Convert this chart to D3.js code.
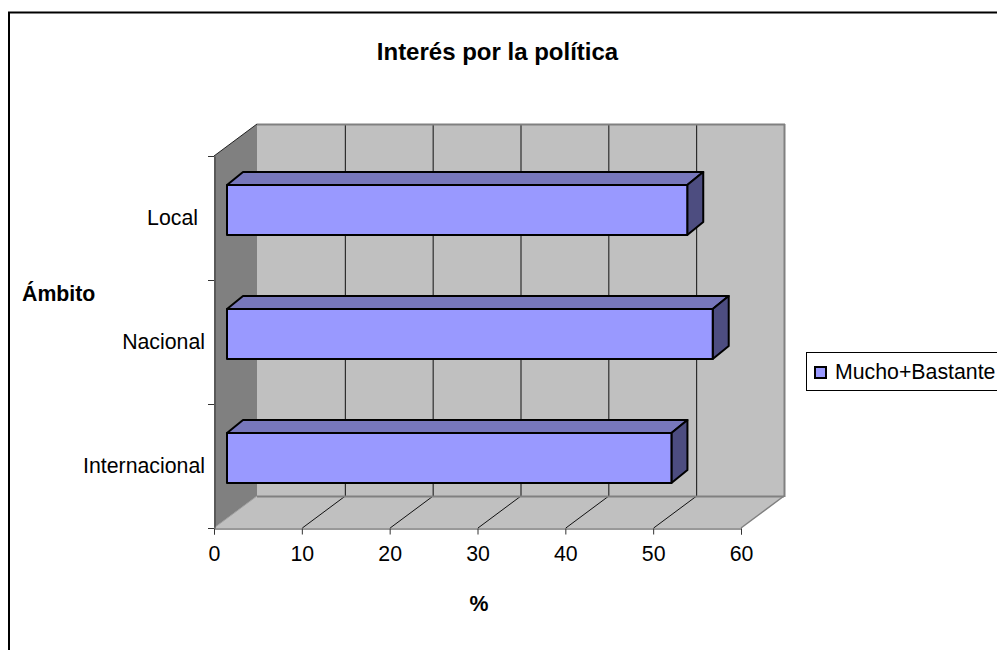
<!DOCTYPE html>
<html><head><meta charset="utf-8">
<script src="https://cdn.jsdelivr.net/npm/d3@7"></script>
<style>html,body{margin:0;padding:0;background:#fff;overflow:hidden}svg{display:block}text{font-family:"Liberation Sans",Arial,sans-serif;fill:#000}</style>
</head><body><div id="c"></div>
<script>
const categories=["Internacional","Nacional","Local"];
const values=[50.6,55.3,52.4];
const seriesName="Mucho+Bastante";
const xTicks=[0,10,20,30,40,50,60];
const title="Interés por la política", xTitle="%", yTitle="Ámbito";

const W=997,H=650;
const FF='"Liberation Sans",Arial,sans-serif';
const FS=21.3;
const svg=d3.select("#c").append("svg").attr("width",W).attr("height",H);
const x=d3.scaleLinear().domain([0,60]).range([214,741]);
const y=d3.scaleBand().domain(categories).range([528,156]).paddingInner(0).paddingOuter(0);
const dx=43,dy=-32;
const poly=(pts,fill,stroke,sw)=>svg.append("polygon").attr("points",pts.map(p=>p.join(",")).join(" ")).attr("fill",fill).attr("stroke",stroke||"none").attr("stroke-width",sw||0);

svg.append("rect").attr("x",9).attr("y",12.5).attr("width",W+20).attr("height",H+20).attr("fill","#fff").attr("stroke","#000").attr("stroke-width",2);

const [x0,x1]=x.range(), yb=y.range()[0], yt=y.range()[1];
poly([[x0+dx,yt+dy],[x1+dx,yt+dy],[x1+dx,yb+dy],[x0+dx,yb+dy]],"#c0c0c0");
poly([[x0,yb],[x0+dx,yb+dy],[x1+dx,yb+dy],[x1,yb]],"#c0c0c0");
poly([[x0,yt],[x0+dx,yt+dy],[x0+dx,yb+dy],[x0,yb]],"#808080");

// grid
xTicks.slice(1,-1).forEach(t=>{
  svg.append("line").attr("x1",x(t)+dx+.5).attr("x2",x(t)+dx+.5).attr("y1",yt+dy).attr("y2",yb+dy).attr("stroke","#111").attr("stroke-width",1);
  svg.append("line").attr("x1",x(t)+.5).attr("y1",yb).attr("x2",x(t)+dx+.5).attr("y2",yb+dy).attr("stroke","#111").attr("stroke-width",1);
});
const edge="#808080";
const ln=(a,b,c,sw)=>svg.append("line").attr("x1",a[0]).attr("y1",a[1]).attr("x2",b[0]).attr("y2",b[1]).attr("stroke",c).attr("stroke-width",sw);
ln([x0+dx,yt+dy+.5],[x1+dx+1,yt+dy+.5],edge,2);
ln([x1+dx+.5,yt+dy],[x1+dx+.5,yb+dy+1],edge,2);
ln([x0+dx,yb+dy+.5],[x1+dx,yb+dy+.5],edge,2);
ln([x1,yb],[x1+dx,yb+dy],edge,1.5);
ln([x0,yt],[x0+dx,yt+dy],"#222",1);
ln([x0,yb],[x0+dx,yb+dy],"#a0a0a0",1);

// axes
const axisX=svg.append("g").attr("transform",`translate(0,${yb+.5})`).call(d3.axisBottom(x).tickValues(xTicks).tickSize(6).tickPadding(11.4).tickFormat(d3.format("d")));
axisX.selectAll("path").attr("stroke","#333");
axisX.selectAll("line").attr("stroke","#333");
axisX.selectAll("text").attr("font-size",FS).attr("font-family",FF);
const axisY=svg.append("g").attr("transform",`translate(${x0+.5},0)`).call(d3.axisLeft(y).tickSizeInner(0).tickSizeOuter(0).tickPadding(9.5));
axisY.select("path").attr("stroke","#333");
axisY.selectAll("line").remove();
axisY.selectAll("text").attr("font-size",FS).attr("font-family",FF).attr("dy","0.35em").attr("dx",d=>d==="Local"?-7:0);
axisY.selectAll(".tick").attr("transform",d=>`translate(0,${y(d)+y.bandwidth()/2})`);
const bandEdges=[...categories.map(c=>y(c)+y.bandwidth()),yt];
bandEdges.forEach(e=>ln([x0-6,e+.5],[x0,e+.5],"#333",1));

// bars
const barH=50, ox=13, oy=-8, bx=16, by=-13;
categories.forEach((c,i)=>{
  const L=x(0)+ox, R=x(values[i])+ox;
  const B=y(c)+y.bandwidth()/2+oy+barH/2, T=B-barH;
  const k="#000",s=2;
  poly([[L,T],[L+bx,T+by],[R+bx,T+by],[R,T]],"#7777bb",k,s).attr("stroke-linejoin","round");
  poly([[R,T],[R+bx,T+by],[R+bx,B+by],[R,B]],"#4d4d80",k,s).attr("stroke-linejoin","round");
  poly([[L,T],[R,T],[R,B],[L,B]],"#9999ff",k,s).attr("stroke-linejoin","round");
});

// titles
svg.append("text").attr("x",497.5).attr("y",60).attr("text-anchor","middle").attr("font-size",24).attr("font-weight","bold").text(title);
svg.append("text").attr("x",479).attr("y",611).attr("text-anchor","middle").attr("font-size",FS).attr("font-weight","bold").text(xTitle);
svg.append("text").attr("x",22).attr("y",301).attr("font-size",FS).attr("font-weight","bold").text(yTitle);

// legend
svg.append("rect").attr("x",806.5).attr("y",352.5).attr("width",W).attr("height",38).attr("fill","#fff").attr("stroke","#000").attr("stroke-width",1);
svg.append("rect").attr("x",815).attr("y",367).attr("width",11).attr("height",11).attr("fill","#9999ff").attr("stroke","#000").attr("stroke-width",2);
svg.append("text").attr("x",835).attr("y",379).attr("font-size",FS).text(seriesName);
</script></body></html>
